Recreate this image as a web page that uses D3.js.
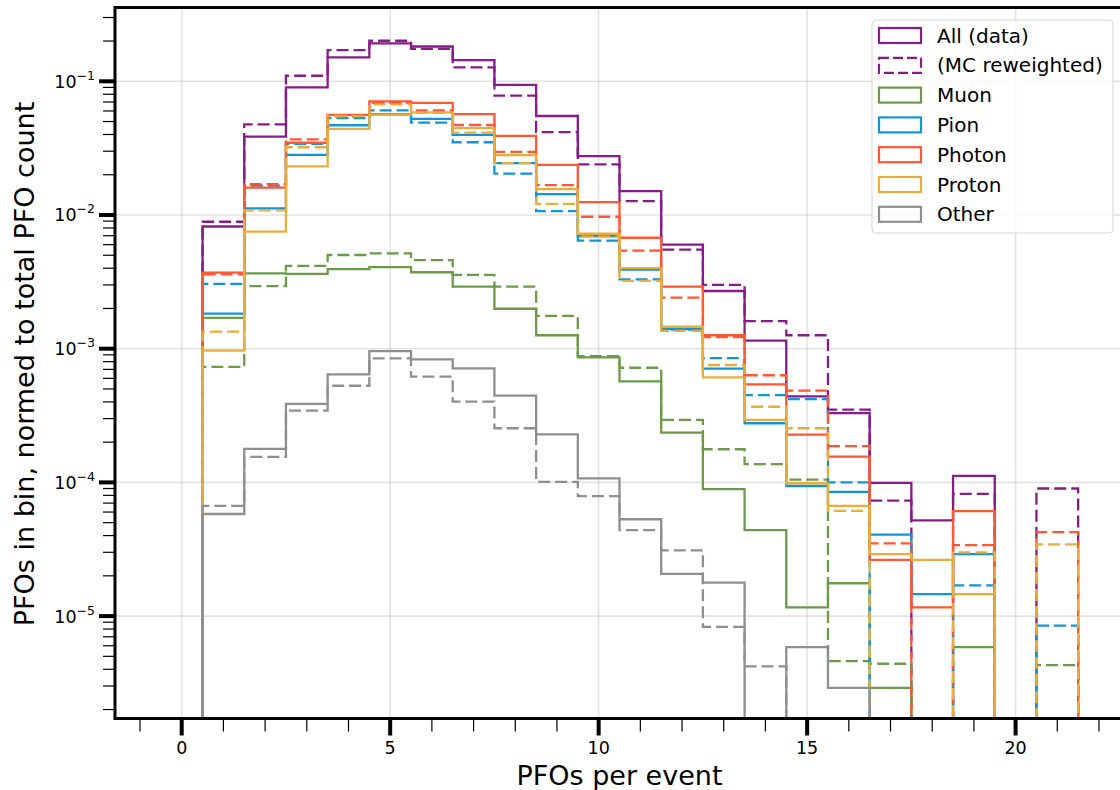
<!DOCTYPE html>
<html>
<head>
<meta charset="utf-8">
<script src="https://cdn.jsdelivr.net/npm/d3@7"></script>
<style>
  body { margin: 0; background: #fff; }
  svg { font-family: "DejaVu Sans", sans-serif; }
</style>
</head>
<body>
<svg id="chart" width="1120" height="790"></svg>
<script>
// bins = integer PFO multiplicity 0..21, edges at k-0.5
const binCentres = d3.range(0, 22);

// All (data) / MC reweighted
const allData  = [0, 8.2e-3, 0.0385, 0.090, 0.151, 0.192, 0.182, 0.144, 0.094, 0.055, 0.0276, 0.0151, 6.0e-3, 2.7e-3, 1.15e-3, 4.4e-4, 3.3e-4, 9.9e-5, 5.2e-5, 1.12e-4, 0, 0];
const allMC    = [0, 8.9e-3, 0.0477, 0.110, 0.171, 0.201, 0.1745, 0.127, 0.078, 0.0416, 0.0239, 0.0127, 5.5e-3, 3.0e-3, 1.61e-3, 1.26e-3, 3.5e-4, 7.3e-5, 0, 8.2e-5, 0, 9.0e-5];
// Muon
const muonData = [0, 1.70e-3, 3.66e-3, 3.63e-3, 3.93e-3, 4.07e-3, 3.73e-3, 2.91e-3, 1.99e-3, 1.26e-3, 8.6e-4, 5.7e-4, 2.36e-4, 8.9e-5, 4.4e-5, 1.16e-5, 1.76e-5, 2.9e-6, 0, 5.85e-6, 0, 0];
const muonMC   = [0, 7.3e-4, 2.94e-3, 4.16e-3, 5.02e-3, 5.17e-3, 4.60e-3, 3.56e-3, 2.91e-3, 1.76e-3, 8.8e-4, 7.2e-4, 2.93e-4, 1.77e-4, 1.37e-4, 1.05e-4, 4.6e-6, 4.4e-6, 0, 0, 0, 4.3e-6];
// Pion
const pionData = [0, 1.83e-3, 0.0112, 0.0282, 0.0469, 0.0569, 0.0523, 0.0397, 0.0244, 0.0143, 6.96e-3, 3.9e-3, 1.41e-3, 7.1e-4, 2.77e-4, 9.4e-5, 8.5e-5, 4.07e-5, 1.46e-5, 2.91e-5, 0, 0];
const pionMC   = [0, 3.05e-3, 0.0166, 0.034, 0.053, 0.0607, 0.049, 0.035, 0.0204, 0.0107, 6.43e-3, 3.3e-3, 1.39e-3, 8.5e-4, 4.5e-4, 4.2e-4, 1.0e-4, 0, 0, 1.7e-5, 0, 8.5e-6];
// Photon
const photonData = [0, 3.71e-3, 0.0160, 0.0347, 0.056, 0.0708, 0.0689, 0.0569, 0.039, 0.0237, 0.0125, 6.76e-3, 2.91e-3, 1.26e-3, 5.4e-4, 2.28e-4, 1.56e-4, 2.63e-5, 1.16e-5, 6.1e-5, 0, 0];
const photonMC   = [0, 3.6e-3, 0.0170, 0.0368, 0.0544, 0.069, 0.0607, 0.0471, 0.0297, 0.0167, 9.7e-3, 5.41e-3, 2.41e-3, 1.22e-3, 6.33e-4, 4.85e-4, 1.87e-4, 3.5e-5, 0, 3.4e-5, 0, 4.24e-5];
// Proton
const protonData = [0, 9.66e-4, 7.5e-3, 0.0231, 0.0440, 0.0562, 0.0586, 0.0447, 0.0280, 0.0156, 7.24e-3, 4.0e-3, 1.46e-3, 6.1e-4, 2.93e-4, 9.85e-5, 6.67e-5, 2.91e-5, 2.63e-5, 1.46e-5, 0, 0];
const protonMC   = [0, 1.34e-3, 0.01084, 0.0321, 0.055, 0.0673, 0.058, 0.0413, 0.0244, 0.0121, 6.9e-3, 3.21e-3, 1.36e-3, 7.55e-4, 3.68e-4, 2.54e-4, 6.13e-5, 0, 0, 3.0e-5, 0, 3.44e-5];
// Other
const otherData = [0, 5.8e-5, 1.78e-4, 3.86e-4, 6.43e-4, 9.6e-4, 8.33e-4, 7.13e-4, 4.46e-4, 2.29e-4, 1.07e-4, 5.3e-5, 2.07e-5, 1.78e-5, 0, 5.85e-6, 2.9e-6, 0, 0, 0, 0, 0];
const otherMC   = [0, 6.67e-5, 1.55e-4, 3.44e-4, 5.28e-4, 8.47e-4, 6.18e-4, 4.02e-4, 2.54e-4, 1.01e-4, 7.9e-5, 4.4e-5, 3.1e-5, 8.3e-6, 4.2e-6, 0, 0, 0, 0, 0, 0, 0];

const legendLabels = ["All (data)", "(MC reweighted)", "Muon", "Pion", "Photon", "Proton", "Other"];
const xTicks = [0, 5, 10, 15, 20];
const yTicks = [1e-1, 1e-2, 1e-3, 1e-4, 1e-5];
const yTickExp = ["\u22121", "\u22122", "\u22123", "\u22124", "\u22125"];

const colours = {
  all: "#861b89", muon: "#6b9a49", pion: "#1195d8",
  photon: "#ff5633", proton: "#e9ad3b", other: "#8f8f8f"
};

// draw order: data solid then MC dashed for each group
const series = [
  { vals: allData, c: colours.all, dash: false },
  { vals: allMC, c: colours.all, dash: true },
  { vals: muonData, c: colours.muon, dash: false },
  { vals: muonMC, c: colours.muon, dash: true },
  { vals: pionData, c: colours.pion, dash: false },
  { vals: pionMC, c: colours.pion, dash: true },
  { vals: photonData, c: colours.photon, dash: false },
  { vals: photonMC, c: colours.photon, dash: true },
  { vals: protonData, c: colours.proton, dash: false },
  { vals: protonMC, c: colours.proton, dash: true },
  { vals: otherData, c: colours.other, dash: false },
  { vals: otherMC, c: colours.other, dash: true }
];

const dashPattern = "12,5";

// ---------------------------------------------------------------
const svg = d3.select("#chart");
const pLeft = 115, pTop = 7.5, pRight = 1124, pBottom = 718.5;

const x = d3.scaleLinear().domain([-1.6, 22.6]).range([pLeft, pRight]);
const y = d3.scaleLog().domain([1.714e-6, 0.3564]).range([pBottom, pTop]);

svg.append("defs").append("clipPath").attr("id", "plotclip")
  .append("rect")
  .attr("x", pLeft).attr("y", pTop)
  .attr("width", pRight - pLeft).attr("height", pBottom - pTop);

// grid
const grid = svg.append("g").attr("stroke", "#b0b0b0").attr("stroke-opacity", 0.35).attr("stroke-width", 1.6);
grid.selectAll(".gx").data(xTicks).join("line")
  .attr("x1", d => x(d)).attr("x2", d => x(d))
  .attr("y1", pTop).attr("y2", pBottom);
grid.selectAll(".gy").data(yTicks).join("line")
  .attr("x1", pLeft).attr("x2", pRight)
  .attr("y1", d => y(d)).attr("y2", d => y(d));

// step histograms
const floorVal = 1e-9;
function stepPoints(vals) {
  const pts = [[binCentres[0] - 0.5, floorVal]];
  vals.forEach((v, i) => {
    const val = v > 0 ? v : floorVal;
    pts.push([binCentres[i] - 0.5, val]);
    pts.push([binCentres[i] + 0.5, val]);
  });
  pts.push([binCentres[binCentres.length - 1] + 0.5, floorVal]);
  return pts;
}
const line = d3.line().x(d => x(d[0])).y(d => Math.min(y(d[1]), pBottom + 40));

const plot = svg.append("g").attr("clip-path", "url(#plotclip)");
series.forEach(s => {
  plot.append("path")
    .attr("d", line(stepPoints(s.vals)))
    .attr("fill", "none")
    .attr("stroke", s.c)
    .attr("stroke-width", 2.3)
    .attr("stroke-linejoin", "miter")
    .attr("stroke-dasharray", s.dash ? dashPattern : null);
});

// ticks
const ticks = svg.append("g").attr("stroke", "#000");
// x minor
ticks.selectAll(".xm").data(d3.range(-1, 23).filter(d => d % 5 !== 0)).join("line")
  .attr("x1", d => x(d)).attr("x2", d => x(d))
  .attr("y1", pBottom).attr("y2", pBottom + 13).attr("stroke-width", 1.2);
// x major
ticks.selectAll(".xM").data(xTicks).join("line")
  .attr("x1", d => x(d)).attr("x2", d => x(d))
  .attr("y1", pBottom).attr("y2", pBottom + 17).attr("stroke-width", 4);
// y minor
const yMinor = [];
for (let e = -6; e <= -1; e++) for (let m = 2; m <= 9; m++) {
  const v = m * Math.pow(10, e);
  if (v > y.domain()[0] && v < y.domain()[1]) yMinor.push(v);
}
ticks.selectAll(".ym").data(yMinor).join("line")
  .attr("x1", pLeft - 12).attr("x2", pLeft)
  .attr("y1", d => y(d)).attr("y2", d => y(d)).attr("stroke-width", 1.2);
ticks.selectAll(".yM").data(yTicks).join("line")
  .attr("x1", pLeft - 16).attr("x2", pLeft)
  .attr("y1", d => y(d)).attr("y2", d => y(d)).attr("stroke-width", 4);

// tick labels
svg.append("g").selectAll("text").data(xTicks).join("text")
  .attr("x", d => x(d)).attr("y", 753.5)
  .attr("text-anchor", "middle").attr("font-size", 17.5).attr("fill", "#000")
  .text(d => d);

const yl = svg.append("g").selectAll("text").data(yTicks).join("text")
  .attr("x", 95).attr("y", d => y(d) + 6.5)
  .attr("text-anchor", "end").attr("font-size", 17.5).attr("fill", "#000");
yl.append("tspan").text("10");
yl.append("tspan").attr("dy", -8).attr("font-size", 12.5).text((d, i) => yTickExp[i]);

// frame
svg.append("rect")
  .attr("x", pLeft).attr("y", pTop)
  .attr("width", pRight - pLeft).attr("height", pBottom - pTop)
  .attr("fill", "none").attr("stroke", "#000").attr("stroke-width", 3);

// axis labels
svg.append("text")
  .attr("x", x(10.5)).attr("y", 784.5)
  .attr("text-anchor", "middle").attr("font-size", 27)
  .text("PFOs per event");
svg.append("text")
  .attr("transform", "translate(33.5,364) rotate(-90)")
  .attr("text-anchor", "middle").attr("font-size", 27)
  .text("PFOs in bin, normed to total PFO count");

// legend
const lg = svg.append("g");
lg.append("rect")
  .attr("x", 872).attr("y", 20).attr("width", 241).attr("height", 213).attr("rx", 4)
  .attr("fill", "#fff").attr("fill-opacity", 0.8)
  .attr("stroke", "#d6d6d6").attr("stroke-width", 1);
const legendItems = [
  { c: colours.all, dash: false }, { c: colours.all, dash: true },
  { c: colours.muon, dash: false }, { c: colours.pion, dash: false },
  { c: colours.photon, dash: false }, { c: colours.proton, dash: false },
  { c: colours.other, dash: false }
];
legendItems.forEach((it, i) => {
  const cy = 35.5 + i * 29.8;
  lg.append("rect")
    .attr("x", 879).attr("y", cy - 7.5).attr("width", 42).attr("height", 15)
    .attr("fill", "none").attr("stroke", it.c).attr("stroke-width", 2.2)
    .attr("stroke-dasharray", it.dash ? "10,4" : null);
  lg.append("text")
    .attr("x", 937).attr("y", cy + 7)
    .attr("font-size", 20).attr("fill", "#000")
    .text(legendLabels[i]);
});
</script>
</body>
</html>
